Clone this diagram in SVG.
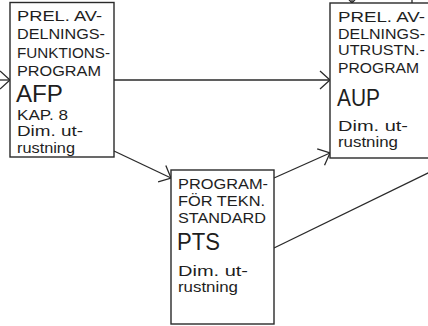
<svg xmlns="http://www.w3.org/2000/svg" width="428" height="326" viewBox="0 0 428 326">
<style>
.box{fill:#fff;stroke:#2a2a2a;stroke-width:1.4}
.t{font-family:"Liberation Sans",Arial,sans-serif;font-size:15.5px;fill:#1e1e1e}
.big{font-size:23.5px}
.c{fill:none;stroke:#2a2a2a;stroke-width:1.3}
</style>
<defs>
<marker id="ah" viewBox="0 0 12 20" refX="11" refY="10" markerWidth="12" markerHeight="20" markerUnits="userSpaceOnUse" orient="auto">
<path d="M1,1 L11,10 L1,19" fill="none" stroke="#2a2a2a" stroke-width="1.3"/>
</marker>
</defs>
<rect width="428" height="326" fill="#fff"/>
<g id="connectors">
<line class="c" x1="-2" y1="80" x2="10" y2="80" marker-end="url(#ah)"/>
<line class="c" x1="114" y1="80" x2="330" y2="80" marker-end="url(#ah)"/>
<line class="c" x1="114" y1="151" x2="171" y2="178" marker-end="url(#ah)"/>
<line class="c" x1="274" y1="178" x2="330" y2="153" marker-end="url(#ah)"/>
<line class="c" x1="274" y1="248" x2="430" y2="172"/>
<line class="c" x1="352" y1="-8" x2="352" y2="3" marker-end="url(#ah)"/>
<line class="c" x1="412" y1="-2" x2="412" y2="3"/>
</g>
<g id="AFP">
<rect class="box" x="10" y="2.5" width="104" height="154.5"/>
<text class="t" x="17" y="21" textLength="85" lengthAdjust="spacingAndGlyphs">PREL.  AV-</text>
<text class="t" x="17" y="38.5" textLength="88" lengthAdjust="spacingAndGlyphs">DELNINGS-</text>
<text class="t" x="17" y="57.5" textLength="93" lengthAdjust="spacingAndGlyphs">FUNKTIONS-</text>
<text class="t" x="17" y="76" textLength="84" lengthAdjust="spacingAndGlyphs">PROGRAM</text>
<text class="t big" x="16" y="101.5" textLength="47" lengthAdjust="spacingAndGlyphs">AFP</text>
<text class="t" x="17" y="119.5" textLength="51" lengthAdjust="spacingAndGlyphs">KAP.  8</text>
<text class="t" x="17" y="136" textLength="66" lengthAdjust="spacingAndGlyphs">Dim. ut-</text>
<text class="t" x="17" y="152.5" textLength="58" lengthAdjust="spacingAndGlyphs">rustning</text>
</g>
<g id="AUP">
<rect class="box" x="330" y="3" width="110" height="155"/>
<text class="t" x="338" y="22" textLength="87" lengthAdjust="spacingAndGlyphs">PREL.  AV-</text>
<text class="t" x="338" y="38.5" textLength="87" lengthAdjust="spacingAndGlyphs">DELNINGS-</text>
<text class="t" x="338" y="55" textLength="87" lengthAdjust="spacingAndGlyphs">UTRUSTN.-</text>
<text class="t" x="338" y="73" textLength="81" lengthAdjust="spacingAndGlyphs">PROGRAM</text>
<text class="t big" x="337" y="105.5" textLength="43" lengthAdjust="spacingAndGlyphs">AUP</text>
<text class="t" x="338" y="130.5" textLength="70" lengthAdjust="spacingAndGlyphs">Dim.  ut-</text>
<text class="t" x="338" y="147" textLength="60" lengthAdjust="spacingAndGlyphs">rustning</text>
</g>
<g id="PTS">
<rect class="box" x="171" y="170" width="103" height="154"/>
<text class="t" x="178" y="189" textLength="90" lengthAdjust="spacingAndGlyphs">PROGRAM-</text>
<text class="t" x="178" y="206" textLength="87" lengthAdjust="spacingAndGlyphs">FÖR  TEKN.</text>
<text class="t" x="178" y="223" textLength="88" lengthAdjust="spacingAndGlyphs">STANDARD</text>
<text class="t big" x="177" y="250" textLength="43" lengthAdjust="spacingAndGlyphs">PTS</text>
<text class="t" x="178" y="275.5" textLength="70" lengthAdjust="spacingAndGlyphs">Dim.  ut-</text>
<text class="t" x="178" y="292" textLength="60" lengthAdjust="spacingAndGlyphs">rustning</text>
</g>
</svg>
